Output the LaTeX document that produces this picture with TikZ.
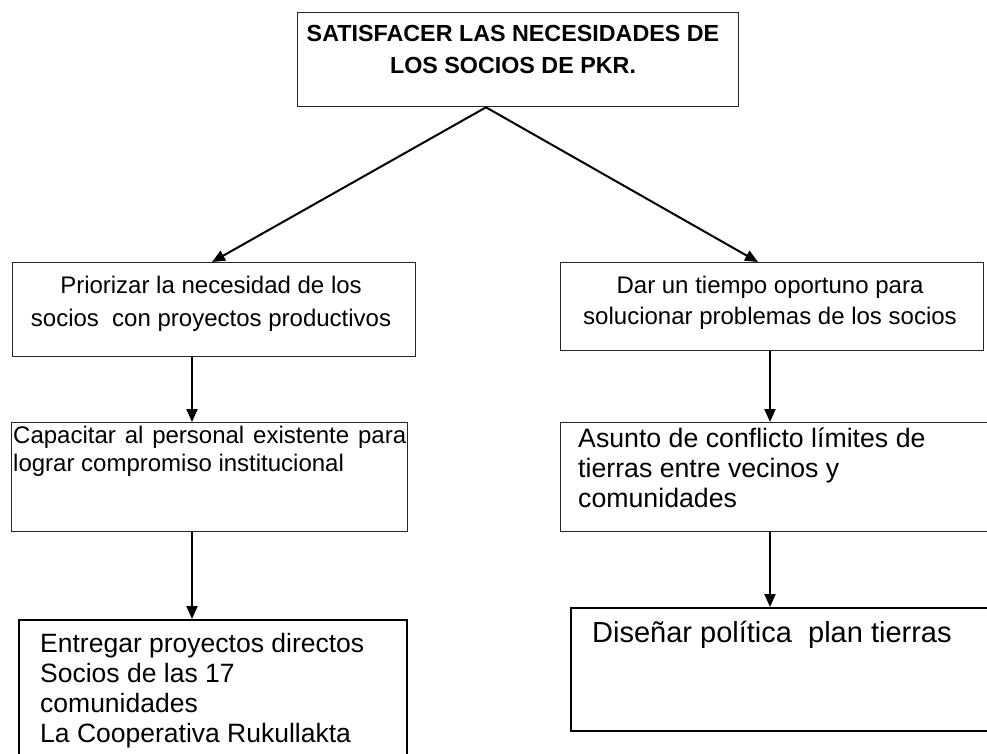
\documentclass[tikz,border=0pt]{standalone}
\usepackage{fontspec}
\setmainfont{Liberation Sans}
\usetikzlibrary{arrows.meta}
\begin{document}
\begin{tikzpicture}[x=1pt,y=-1pt,
  box/.style={draw=black!85, line width=1.3pt, rectangle, inner sep=0pt, anchor=north west},
  boxthick/.style={draw=black, line width=2pt, rectangle, inner sep=0pt, anchor=north west},
  txt/.style={inner sep=0pt, text=black},
  arr/.style={line width=2pt, -{Triangle[length=13pt,width=11pt]}}]
\clip (0,0) rectangle (987,753);
\fill[white] (0,0) rectangle (987,753);
% boxes
\node[box, minimum width=441pt, minimum height=94pt] (top) at (297,12) {};
\node[box, minimum width=403pt, minimum height=94pt] (b1) at (12,262) {};
\node[box, minimum width=423pt, minimum height=88pt] (b2) at (560,262) {};
\node[box, minimum width=396pt, minimum height=109pt] (b3) at (11,422) {};
\node[box, minimum width=440pt, minimum height=109pt] (b4) at (560,422) {};
\node[boxthick, minimum width=388pt, minimum height=160pt] (b5) at (18,619) {};
\node[boxthick, minimum width=430pt, minimum height=123pt] (b6) at (570,607) {};
% texts
\node[txt, align=center, font=\fontsize{23.3}{32}\selectfont\bfseries] (ttop) at (513,49)
  {SATISFACER LAS NECESIDADES DE\\LOS SOCIOS DE PKR.};
\node[txt, align=center, font=\fontsize{24}{33}\selectfont] (t1) at (211,303.5)
  {Priorizar la necesidad de los\\socios\ \ con proyectos productivos};
\node[txt, align=center, font=\fontsize{24}{31}\selectfont] (t2) at (770,302.5)
  {Dar un tiempo oportuno para\\solucionar problemas de los socios};
\node[txt, anchor=west, text width=393pt, align=justify, font=\fontsize{24}{28}\selectfont] (t3) at (13,451)
  {\hyphenpenalty=10000 Capacitar al personal existente para lograr compromiso institucional};
\node[txt, anchor=west, align=left, font=\fontsize{26.7}{30}\selectfont] (t4) at (578,468)
  {Asunto de conflicto límites de\\tierras entre vecinos y\\comunidades};
\node[txt, anchor=west, align=left, font=\fontsize{26.5}{30}\selectfont] (t5) at (40,691)
  {Entregar proyectos directos\\Socios de las 17\\comunidades\\La Cooperativa Rukullakta};
\node[txt, anchor=west, font=\fontsize{29}{32}\selectfont] (t6) at (592,635)
  {Diseñar política\ \ plan tierras};
% connectors
\coordinate (o) at ([xshift=189pt]top.south west);
\coordinate (xl) at (192,0);
\coordinate (xr) at (770,0);
\draw[arr] (o) -- ([xshift=200pt]b1.north west);
\draw[arr] (o) -- ([xshift=198pt]b2.north west);
\draw[arr] (b1.south -| xl) -- (b3.north -| xl);
\draw[arr] (b3.south -| xl) -- (b5.north -| xl);
\draw[arr] (b2.south -| xr) -- (b4.north -| xr);
\draw[arr] (b4.south -| xr) -- (b6.north -| xr);
\end{tikzpicture}
\end{document}
